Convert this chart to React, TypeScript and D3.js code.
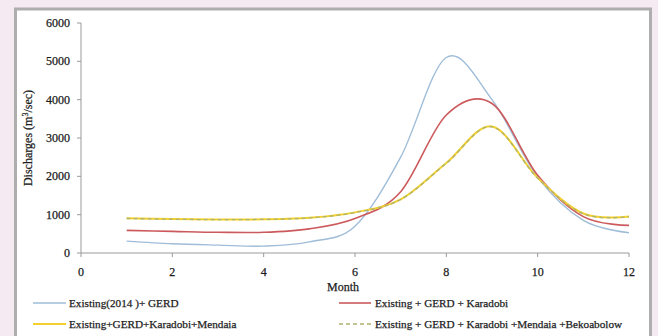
import React from "react";
import * as d3 from "d3";

const months = [1, 2, 3, 4, 5, 6, 7, 8, 9, 10, 11, 12];
const existingGerd = [310, 240, 205, 180, 290, 700, 2500, 5100, 4000, 1980, 850, 530];
const withKaradobi = [590, 565, 540, 540, 630, 900, 1600, 3600, 3900, 2030, 950, 720];
const withMendaia = [905, 885, 875, 880, 920, 1060, 1400, 2350, 3300, 1960, 1030, 950];
const withBekoabolow = [900, 880, 870, 878, 915, 1055, 1395, 2340, 3290, 1950, 1020, 945];
const xTicks = [0, 2, 4, 6, 8, 10, 12];
const yTicks = [0, 1000, 2000, 3000, 4000, 5000, 6000];
const seriesNames = [
  "Existing(2014 )+ GERD",
  "Existing + GERD + Karadobi",
  "Existing+GERD+Karadobi+Mendaia",
  "Existing + GERD + Karadobi +Mendaia +Bekoabolow",
];

const W = 658;
const H = 336;
const font = "'Liberation Serif', 'Times New Roman', serif";
const ink = "#1c1c1c";

export default function App() {
  const x = d3.scaleLinear().domain([0, 12]).range([81, 629]);
  const y = d3.scaleLinear().domain([0, 6000]).range([253, 23]);
  const line = d3
    .line<[number, number]>()
    .x((d) => x(d[0]))
    .y((d) => y(d[1]))
    .curve(d3.curveCardinal.tension(0));
  const pts = (vals: number[]) => months.map((m, i) => [m, vals[i]] as [number, number]);

  const series = [
    { name: seriesNames[0], vals: existingGerd, color: "#9fbcd8", dash: "", w: 1.4 },
    { name: seriesNames[1], vals: withKaradobi, color: "#cc5a5c", dash: "", w: 1.6 },
    { name: seriesNames[2], vals: withMendaia, color: "#f3d02e", dash: "", w: 2 },
    { name: seriesNames[3], vals: withBekoabolow, color: "#aeb36c", dash: "4,3", w: 1.3 },
  ];

  const legendPos = [
    { x0: 33, x1: 66, tx: 69, ty: 307 },
    { x0: 339, x1: 371, tx: 375, ty: 307 },
    { x0: 33, x1: 66, tx: 69, ty: 328 },
    { x0: 339, x1: 371, tx: 375, ty: 328 },
  ];

  const textStyle = { fill: ink, stroke: ink, strokeWidth: 0.25 };

  return (
    <svg
      width={W}
      height={H}
      style={{ position: "absolute", left: 0, top: 0 }}
      fontFamily={font}
    >
      <rect x={0} y={0} width={W} height={H} fill="#f5e9f2" />
      <rect x={15.5} y={9} width={635} height={H} fill="#ffffff" stroke="#aeaeae" strokeWidth={3} />

      {/* axes */}
      <line x1={x(0)} x2={x(0)} y1={y(6000)} y2={y(0)} stroke="#9a9a9a" />
      <line x1={x(0)} x2={x(12)} y1={y(0)} y2={y(0)} stroke="#9a9a9a" />
      {yTicks.map((t) => (
        <g key={"y" + t}>
          <line x1={x(0) - 4} x2={x(0)} y1={y(t)} y2={y(t)} stroke="#9a9a9a" />
          <text x={70} y={y(t) + 4} textAnchor="end" fontSize={12} {...textStyle}>
            {t}
          </text>
        </g>
      ))}
      {xTicks.map((t) => (
        <g key={"x" + t}>
          <line x1={x(t)} x2={x(t)} y1={y(0)} y2={y(0) + 4} stroke="#9a9a9a" />
          <text x={x(t)} y={275.5} textAnchor="middle" fontSize={12} {...textStyle}>
            {t}
          </text>
        </g>
      ))}
      <text x={343} y={291} textAnchor="middle" fontSize={12} {...textStyle}>
        Month
      </text>
      <text
        transform={`translate(32,138) rotate(-90)`}
        textAnchor="middle"
        fontSize={12}
        {...textStyle}
      >
        Discharges (m<tspan dy={-4} fontSize={8}>3</tspan>
        <tspan dy={4}>/sec)</tspan>
      </text>

      {/* series */}
      {series.map((s) => (
        <path
          key={s.name}
          d={line(pts(s.vals)) || ""}
          fill="none"
          stroke={s.color}
          strokeWidth={s.w}
          strokeDasharray={s.dash}
        />
      ))}

      {/* legend */}
      {series.map((s, i) => {
        const p = legendPos[i];
        return (
          <g key={"lg" + i}>
            <line x1={p.x0} x2={p.x1} y1={p.ty - 4} y2={p.ty - 4} stroke={s.color} strokeWidth={s.w} strokeDasharray={s.dash} />
            <text x={p.tx} y={p.ty} fontSize={11.2} {...textStyle}>
              {s.name}
            </text>
          </g>
        );
      })}
    </svg>
  );
}
